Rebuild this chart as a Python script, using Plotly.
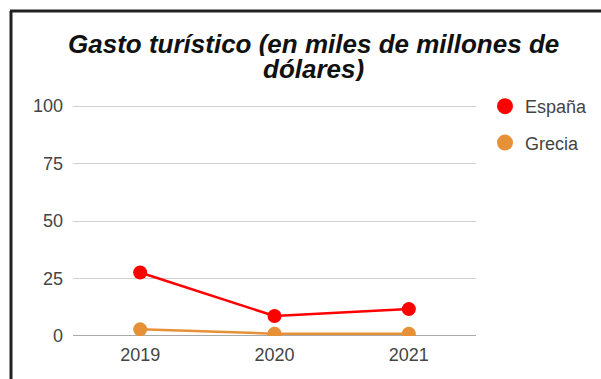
import plotly.graph_objects as go

years = ["2019", "2020", "2021"]
espana = [27.6, 8.7, 11.7]
grecia = [2.9, 1.0, 1.0]
y_ticks = [0, 25, 50, 75, 100]
title_lines = ["Gasto turístico (en miles de millones de", "dólares)"]

RED = "#ff0000"
ORANGE = "#e69138"

W, H = 601, 379
L, R, T, B = 73, 125, 105, 43
pw, ph = W - L - R, H - T - B

def px(x):
    return (x - L) / pw

def py(y):
    return (H - B - y) / ph

fig = go.Figure()
for name, vals, col, grp in [("España", espana, RED, "a"), ("Grecia", grecia, ORANGE, "b")]:
    fig.add_trace(go.Scatter(x=years, y=vals, mode="lines+markers", name=name,
                             line=dict(color=col, width=2.5),
                             marker=dict(color=col, size=14),
                             showlegend=False, hoverinfo="skip"))
    fig.add_trace(go.Scatter(x=[None], y=[None], mode="markers", name=name,
                             legendgroup=grp,
                             marker=dict(color=col, size=20)))

fig.update_layout(
    width=W, height=H,
    margin=dict(l=L, r=R, t=T, b=B, pad=0, autoexpand=False),
    paper_bgcolor="white", plot_bgcolor="white",
    font=dict(family="Liberation Sans, Arial, sans-serif", size=18, color="#444"),
    xaxis=dict(type="category", range=[-0.5, 2.5], showgrid=False, ticks="",
               tickfont=dict(size=18, color="#444"), showline=False, zeroline=False,
               ticklabelstandoff=6, automargin=False),
    yaxis=dict(range=[0, 100.45], tickvals=y_ticks, showgrid=True, gridcolor="#d0d0d0",
               gridwidth=1, zeroline=False, showline=False, ticks="",
               tickfont=dict(size=18, color="#444"), ticklabelstandoff=9,
               automargin=False),
    legend=dict(x=px(485), xanchor="left", y=py(88), yanchor="top",
                font=dict(size=18, color="#444"), tracegroupgap=10,
                bgcolor="rgba(0,0,0,0)"),
    showlegend=True,
)

for txt, yc in zip(title_lines, [44, 69]):
    fig.add_annotation(text="<b><i>" + txt + "</i></b>", xref="paper", yref="paper",
                       x=px(313), y=py(yc), xanchor="center", yanchor="middle",
                       height=24, valign="middle",
                       showarrow=False, font=dict(size=26, color="#111"))

# baseline at 0
fig.add_shape(type="line", xref="paper", yref="y", x0=0, x1=1, y0=0, y1=0,
              line=dict(color="#555", width=1.2), layer="below")
# outer border (partial frame)
fig.add_shape(type="line", xref="paper", yref="paper", x0=px(11), x1=px(11),
              y0=py(11), y1=py(H + 5), line=dict(color="#222", width=3))
fig.add_shape(type="line", xref="paper", yref="paper", x0=px(10), x1=px(W + 5),
              y0=py(11), y1=py(11), line=dict(color="#222", width=3))

fig.write_html("out.html")
